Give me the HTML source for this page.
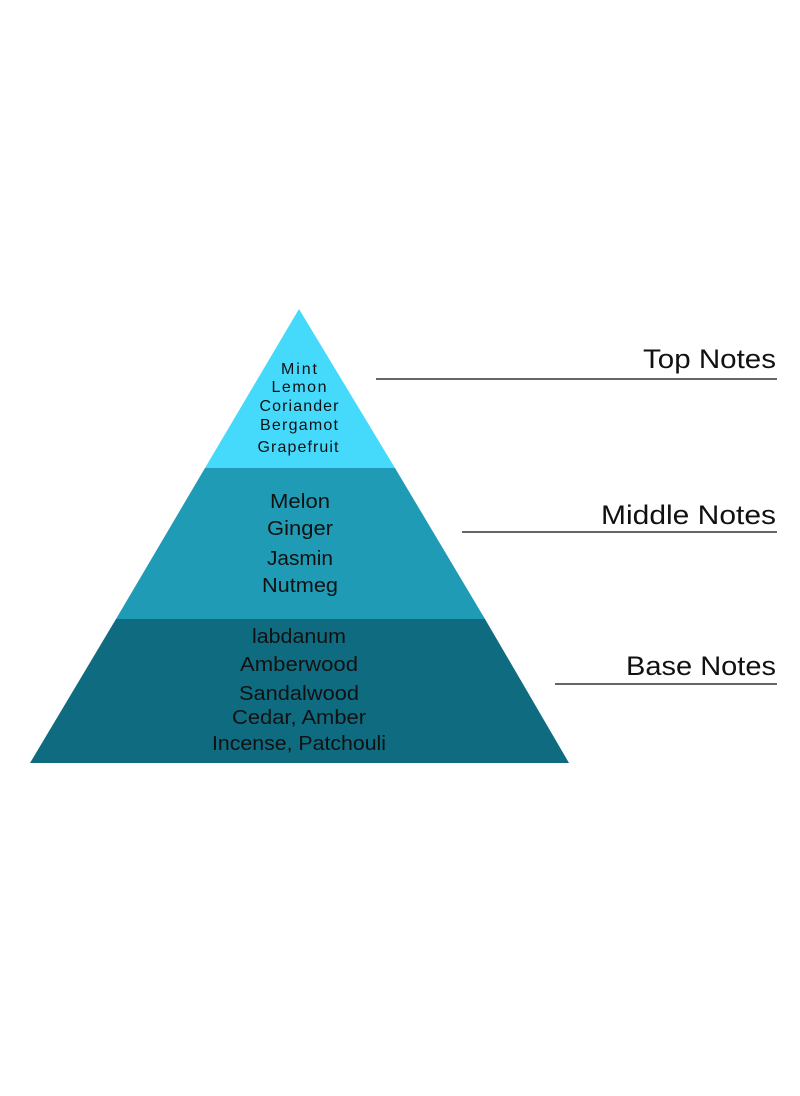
<!DOCTYPE html>
<html><head><meta charset="utf-8"><style>
html,body{margin:0;padding:0;background:#fff;}
svg{display:block;}
text{font-family:"Liberation Sans",sans-serif;fill:#111;}
</style></head><body>
<svg width="800" height="1096" viewBox="0 0 800 1096" xmlns="http://www.w3.org/2000/svg">
<polygon points="299,309 395,468 205,468" fill="#45d9fb"/>
<polygon points="205,468 395,468 485,619 116,619" fill="#1f9bb6"/>
<polygon points="116,619 485,619 569,763 30,763" fill="#0f6c80"/>
<g text-anchor="middle" font-size="16" lengthAdjust="spacingAndGlyphs">
<text x="299" y="374" textLength="36">Mint</text>
<text x="299" y="392" textLength="55">Lemon</text>
<text x="299" y="411" textLength="79">Coriander</text>
<text x="299" y="430" textLength="78">Bergamot</text>
<text x="298" y="452" textLength="81">Grapefruit</text>
</g>
<g text-anchor="middle" font-size="20">
<text x="300" y="508" textLength="60" lengthAdjust="spacingAndGlyphs">Melon</text>
<text x="300" y="535" textLength="66" lengthAdjust="spacingAndGlyphs">Ginger</text>
<text x="300" y="565" textLength="66" lengthAdjust="spacingAndGlyphs">Jasmin</text>
<text x="300" y="592" textLength="76" lengthAdjust="spacingAndGlyphs">Nutmeg</text>
<text x="299" y="643" textLength="94" lengthAdjust="spacingAndGlyphs">labdanum</text>
<text x="299" y="671" textLength="118" lengthAdjust="spacingAndGlyphs">Amberwood</text>
<text x="299" y="700" textLength="120" lengthAdjust="spacingAndGlyphs">Sandalwood</text>
<text x="299" y="724" textLength="134" lengthAdjust="spacingAndGlyphs">Cedar, Amber</text>
<text x="299" y="750" textLength="174" lengthAdjust="spacingAndGlyphs">Incense, Patchouli</text>
</g>
<g text-anchor="end" font-size="27">
<text x="776" y="368" textLength="133" lengthAdjust="spacingAndGlyphs">Top Notes</text>
<text x="776" y="524" textLength="175" lengthAdjust="spacingAndGlyphs">Middle Notes</text>
<text x="776" y="675" textLength="150" lengthAdjust="spacingAndGlyphs">Base Notes</text>
</g>
<g stroke="#333" stroke-width="1.5">
<line x1="376" y1="379" x2="777" y2="379"/>
<line x1="462" y1="532" x2="777" y2="532"/>
<line x1="555" y1="684" x2="777" y2="684"/>
</g>
</svg>
</body></html>
